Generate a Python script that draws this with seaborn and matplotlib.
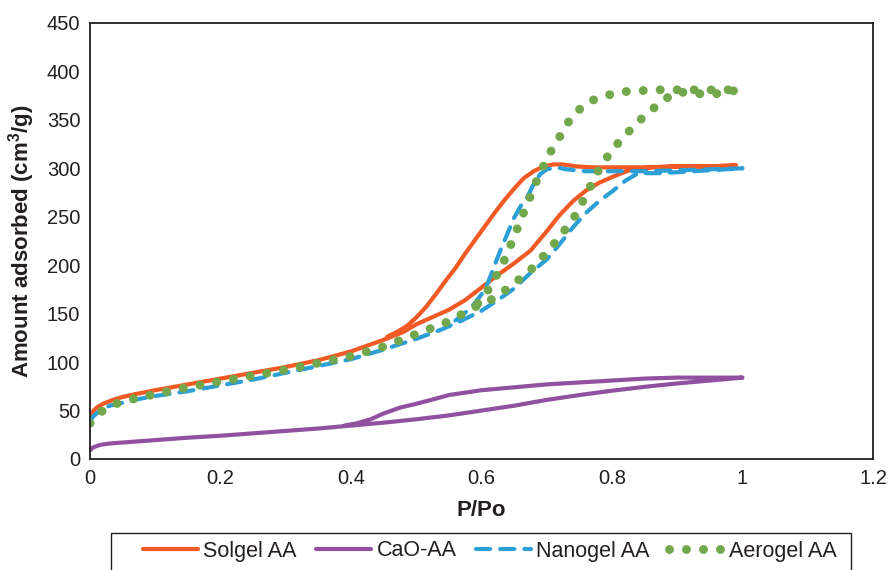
import numpy as np
import pandas as pd
import matplotlib
matplotlib.use("Agg")
import matplotlib.pyplot as plt
from matplotlib.patches import Rectangle
import seaborn as sns

# isotherm data (adsorption branch then desorption branch)
solgel_x = [0, 0.003, 0.01, 0.02, 0.035, 0.05, 0.07, 0.1, 0.15, 0.2, 0.25, 0.3, 0.35, 0.4, 0.45, 0.48,
            0.5, 0.53, 0.55, 0.575, 0.6, 0.625, 0.65, 0.675, 0.7, 0.72, 0.74, 0.76, 0.78, 0.8, 0.83,
            0.86, 0.9, 0.95, 0.99,
            0.95, 0.9, 0.85, 0.8, 0.77, 0.745, 0.725, 0.71, 0.695, 0.68, 0.665, 0.65, 0.635, 0.62,
            0.605, 0.59, 0.575, 0.56, 0.545, 0.53, 0.515, 0.5, 0.485, 0.47, 0.455]
solgel_y = [43, 48, 53, 57, 61, 64, 67, 71, 77, 83, 89, 95, 102, 111, 123, 131,
            139, 148, 154, 164, 177, 190, 202, 215, 235, 252, 266, 277, 285, 291, 299,
            301, 302, 302, 303,
            302, 302, 301, 301, 301, 302, 304, 304, 302, 297, 290, 279, 267, 254,
            240, 226, 212, 197, 184, 170, 157, 146, 137, 131, 126]

cao_x = [0, 0.005, 0.015, 0.03, 0.06, 0.1, 0.15, 0.2, 0.25, 0.3, 0.35, 0.4, 0.45, 0.5, 0.55, 0.6,
         0.65, 0.7, 0.75, 0.8, 0.85, 0.9, 0.95, 1.0,
         0.95, 0.9, 0.85, 0.8, 0.75, 0.7, 0.65, 0.6, 0.55, 0.52, 0.5, 0.475, 0.45, 0.43, 0.41, 0.39]
cao_y = [9, 12, 14.5, 16, 17.5, 19.5, 22, 24, 26.5, 29, 31.5, 34.5, 37.5, 41, 45, 50,
         55, 61, 66, 70.5, 74.5, 78, 81, 84,
         84, 84, 83, 81, 79, 77, 74, 71, 66, 60.5, 57, 53, 47, 41, 37, 34.5]

nanogel_x = [0, 0.005, 0.015, 0.03, 0.05, 0.075, 0.1, 0.15, 0.2, 0.25, 0.3, 0.35, 0.4, 0.45, 0.5,
             0.54, 0.57, 0.6, 0.625, 0.65, 0.675, 0.7, 0.72, 0.74, 0.76, 0.78, 0.8, 0.82, 0.84,
             0.87, 0.9, 0.95, 1.0,
             0.95, 0.9, 0.85, 0.8, 0.76, 0.73, 0.715, 0.7, 0.69, 0.68, 0.67, 0.66, 0.65, 0.64,
             0.63, 0.62, 0.61, 0.6, 0.59, 0.58, 0.57, 0.56]
nanogel_y = [39, 44, 50, 55, 58, 62, 65, 70, 76, 82, 89, 96, 103, 113, 124,
             134, 143, 153, 164, 176, 192, 206, 222, 239, 254, 266, 276, 287, 295,
             295, 296, 298, 300,
             299, 298, 297, 297, 297, 299, 301, 299, 294, 284, 270, 261, 249, 233,
             217, 200, 182, 170, 161, 154, 148, 143]

aerogel_x = [0, 0.01, 0.02, 0.04, 0.06, 0.1, 0.15, 0.2, 0.25, 0.3, 0.35, 0.4, 0.45, 0.5, 0.55,
             0.59, 0.62, 0.65, 0.68, 0.71, 0.74, 0.76, 0.78, 0.8, 0.82, 0.84, 0.86, 0.88, 0.9,
             0.93, 0.96, 0.995,
             0.97, 0.94, 0.9, 0.865, 0.84, 0.815, 0.79, 0.765, 0.745, 0.73, 0.716, 0.703, 0.692,
             0.681, 0.672, 0.662, 0.652, 0.643, 0.633, 0.621, 0.607, 0.59]
aerogel_y = [37, 45, 50, 57, 61, 67, 74, 80, 86, 92, 99, 106, 116, 129, 142,
             157, 166, 181, 198, 221, 247, 272, 299, 319, 334, 348, 360, 371, 379,
             377, 377, 381,
             381, 381, 381, 381, 380, 379, 375, 369, 358, 345, 328, 314, 298,
             282, 266, 250, 233, 218, 202, 187, 171, 157]

x_ticks = [0, 0.2, 0.4, 0.6, 0.8, 1, 1.2]
x_tick_labels = ["0", "0.2", "0.4", "0.6", "0.8", "1", "1.2"]
y_ticks = list(range(0, 451, 50))

sns.set_theme(style="white")
plt.rcParams["font.family"] = ["Liberation Sans", "DejaVu Sans"]
plt.rcParams["mathtext.fontset"] = "custom"
plt.rcParams["mathtext.rm"] = "Liberation Sans"
plt.rcParams["mathtext.bf"] = "Liberation Sans:bold"
txt = "#231f20"

fig = plt.figure(figsize=(8.88, 5.70), dpi=100)
ax = fig.add_axes([90 / 888, 111 / 570, 783 / 888, 436 / 570])

series = [
    ("Solgel AA", solgel_x, solgel_y, "#f15a24", "-", 3.0),
    ("CaO-AA", cao_x, cao_y, "#9150a0", "-", 3.0),
    ("Nanogel AA", nanogel_x, nanogel_y, "#2b9fd6", (0, (3.4, 2.4)), 3.0),
    ("Aerogel AA", aerogel_x, aerogel_y, "#72a84b", (0, (0.01, 1.9)), 6.4),
]
for name, xs, ys, col, ls, lw in series:
    df = pd.DataFrame({"x": xs, "y": ys})
    sns.lineplot(data=df, x="x", y="y", sort=False, estimator=None, ax=ax, color=col,
                 linestyle=ls, linewidth=lw, label=name,
                 solid_capstyle="round", dash_capstyle="round")

ax.set_xlim(0, 1.2)
ax.set_ylim(0, 450)
ax.set_xticks(x_ticks)
ax.set_xticklabels(x_tick_labels)
ax.set_yticks(y_ticks)
ax.tick_params(length=0, labelsize=14.5, colors=txt, pad=7)
for s in ax.spines.values():
    s.set_visible(True)
    s.set_color(txt)
    s.set_linewidth(1.3)
ax.set_xlabel("P/Po", fontsize=16, fontweight="bold", color=txt, labelpad=9)
ax.set_ylabel(r"Amount adsorbed (cm$^{\mathbf{3}}$/g)", fontsize=16, fontweight="bold",
              color=txt, labelpad=7)

leg = ax.legend(loc="center left", bbox_to_anchor=(143 / 888, 19 / 570),
                bbox_transform=fig.transFigure, ncol=4, frameon=False,
                fontsize=15.5, handlelength=2.55, handletextpad=0.25, columnspacing=0.9,
                borderpad=0, borderaxespad=0)
for t in leg.get_texts():
    t.set_color(txt)

# legend frame, running off the bottom edge like the original
fig.patches.append(Rectangle((111 / 888, -0.02), 740 / 888, 37 / 570 + 0.02,
                             transform=fig.transFigure, fill=False, edgecolor=txt,
                             linewidth=1.0))

fig.savefig("out.png", dpi=100)
